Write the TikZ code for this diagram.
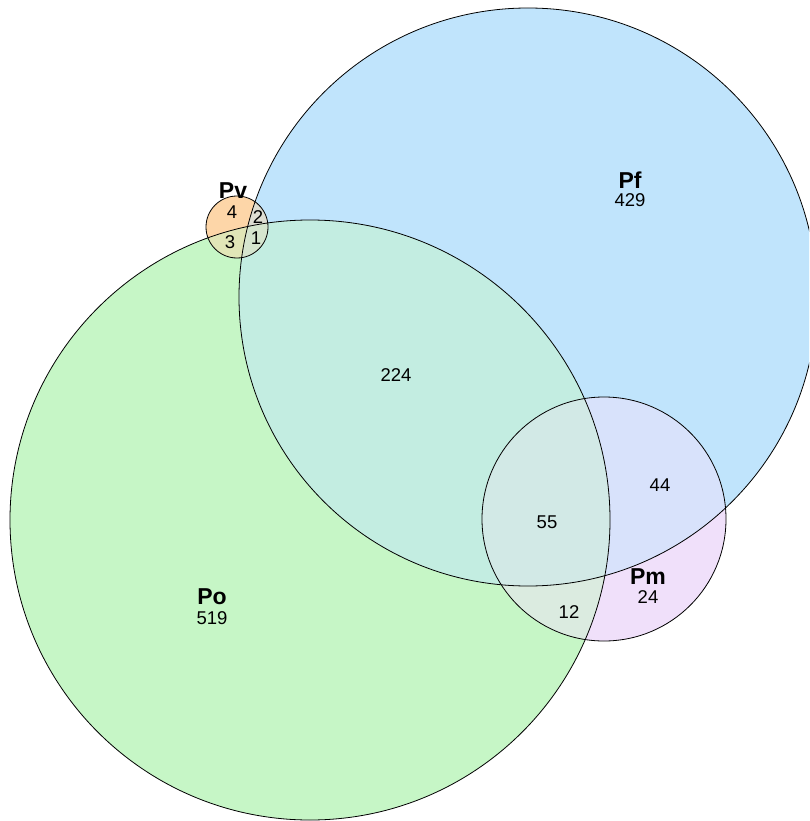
\documentclass[tikz,border=0pt]{standalone}
\usepackage{fontspec}
\setmainfont{Liberation Sans}
\definecolor{cG}{RGB}{198,246,198}
\definecolor{cB}{RGB}{192,228,252}
\definecolor{cM}{RGB}{240,224,250}
\definecolor{cV}{RGB}{253,214,168}
\definecolor{cGB}{RGB}{195,237,225}
\definecolor{cMB}{RGB}{216,226,251}
\definecolor{cMG}{RGB}{219,235,224}
\definecolor{cMGB}{RGB}{210,233,230}
\definecolor{cVB}{RGB}{222,221,210}
\definecolor{cVG}{RGB}{225,230,183}
\definecolor{cVGB}{RGB}{214,229,206}
\begin{document}
\begin{tikzpicture}[x=1pt,y=-1pt,
  setc/.style={circle,draw=black,line width=0.8pt,inner sep=0pt,fill=none},
  setname/.style={font=\fontsize{23}{23}\selectfont\bfseries,inner sep=0pt},
  cnt/.style={font=\fontsize{18.5}{18.5}\selectfont,inner sep=0pt}]
\useasboundingbox (0,0) rectangle (809,821);
\clip (0,0) rectangle (809,821);
\def\cPo{(310,520) circle (300pt)}
\def\cPf{(528,297) circle (289pt)}
\def\cPm{(604,519) circle (122pt)}
\def\cPv{(237,227) circle (31pt)}
% base fills
\fill[cG] \cPo;
\fill[cB] \cPf;
\begin{scope}\clip \cPo; \fill[cGB] \cPf; \end{scope}
\fill[cM] \cPm;
\begin{scope}\clip \cPm; \fill[cMB] \cPf; \fill[cMG] \cPo; \clip \cPo; \fill[cMGB] \cPf; \end{scope}
\fill[cV] \cPv;
\begin{scope}\clip \cPv; \fill[cVB] \cPf; \fill[cVG] \cPo; \clip \cPo; \fill[cVGB] \cPf; \end{scope}
% outlines
\node[setc,minimum size=600pt] (Po) at (310,520) {};
\node[setc,minimum size=578pt] (Pf) at (528,297) {};
\node[setc,minimum size=244pt] (Pm) at (604,519) {};
\node[setc,minimum size=62pt] (Pv) at (237,227) {};
% labels
\node[setname] (lPv) at (233,191) {Pv};
\node[cnt] (n4) at (232,212) {4};
\node[cnt] (n2) at (258,217) {2};
\node[cnt] (n3) at (230,242) {3};
\node[cnt] (n1) at (256,238) {1};
\node[setname] (lPf) at (630,180) {Pf};
\node[cnt] (n429) at (630,200) {429};
\node[cnt] (n224) at (396,375) {224};
\node[cnt] (n44) at (660,485) {44};
\node[cnt] (n55) at (547,522) {55};
\node[setname] (lPm) at (648,577) {Pm};
\node[cnt] (n24) at (648,597) {24};
\node[cnt] (n12) at (569,612) {12};
\node[setname] (lPo) at (212,597) {Po};
\node[cnt] (n519) at (212,618) {519};
\end{tikzpicture}
\end{document}
